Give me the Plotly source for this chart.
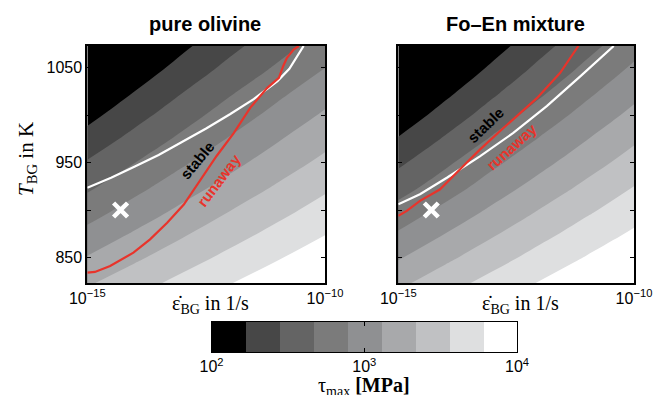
import numpy as np
import plotly.graph_objects as go

# ---------------- data ----------------
rate_log = [-15, -14, -13, -12, -11, -10]          # log10 of strain rate (1/s)
temperature_K = [823, 848, 873, 898, 923, 948, 973, 998, 1023, 1048, 1073]

# log10(tau_max / MPa), rows follow temperature_K, columns follow rate_log
log_tau_olivine = [
    [3.306, 3.466, 3.621, 3.769, 3.908, 4.047],
    [3.136, 3.307, 3.468, 3.622, 3.770, 3.909],
    [2.965, 3.148, 3.318, 3.478, 3.632, 3.780],
    [2.798, 2.987, 3.168, 3.338, 3.497, 3.649],
    [2.635, 2.830, 3.018, 3.196, 3.364, 3.523],
    [2.476, 2.677, 2.870, 3.056, 3.231, 3.397],
    [2.318, 2.526, 2.725, 2.917, 3.102, 3.274],
    [2.165, 2.379, 2.584, 2.781, 2.971, 3.152],
    [2.014, 2.236, 2.447, 2.649, 2.843, 3.030],
    [1.870, 2.093, 2.310, 2.512, 2.705, 2.898],
    [1.734, 1.956, 2.178, 2.385, 2.578, 2.775],
]
log_tau_foen = [
    [3.283, 3.465, 3.634, 3.791, 3.939, 4.088],
    [3.103, 3.297, 3.477, 3.644, 3.802, 3.950],
    [2.926, 3.127, 3.320, 3.499, 3.664, 3.820],
    [2.752, 2.960, 3.160, 3.352, 3.529, 3.691],
    [2.582, 2.787, 3.004, 3.202, 3.390, 3.567],
    [2.415, 2.639, 2.852, 3.056, 3.251, 3.436],
    [2.251, 2.482, 2.703, 2.913, 3.115, 3.308],
    [2.087, 2.328, 2.556, 2.773, 2.980, 3.179],
    [1.930, 2.177, 2.413, 2.637, 2.850, 3.054],
    [1.780, 2.027, 2.271, 2.502, 2.722, 2.931],
    [1.637, 1.884, 2.131, 2.370, 2.596, 2.811],
]

# colour levels: 9 bands between 10^2 and 10^4 MPa
level_edges_log = [2.0, 2.2222, 2.4444, 2.6667, 2.8889, 3.1111, 3.3333, 3.5556, 3.7778, 4.0]
band_colors = ["#000000", "#474747", "#646464", "#7b7b7b", "#8f9092",
               "#a8a9ab", "#c0c1c3", "#dedfe0", "#ffffff"]
cbar_ticks_log = [2, 3, 4]
cbar_ticktext = ["10<sup>2</sup>", "10<sup>3</sup>", "10<sup>4</sup>"]

# stability boundaries
stable_olivine_rate_log = [-15.0, -14.5, -14.0, -13.5, -13.0, -12.5, -12.0, -11.5, -11.0, -10.75, -10.45]
stable_olivine_T = [923.5, 934, 946, 958, 972, 986, 1001, 1017, 1036, 1049, 1073]
runaway_olivine_rate_log = [-15.0, -14.84, -14.52, -14.03, -13.68, -13.32, -12.97, -12.63, -12.28,
                            -11.92, -11.57, -11.22, -10.97, -10.88, -10.80, -10.66, -10.55]
runaway_olivine_T = [834, 834.7, 840.9, 855, 869, 886.5, 905.8, 930.4, 957,
                     981, 1008, 1028.6, 1039.5, 1051.7, 1060.5, 1069.3, 1073]

stable_foen_rate_log = [-15.0, -14.54, -13.97, -13.27, -12.56, -11.85, -11.14, -10.43]
stable_foen_T = [906, 916.6, 934, 956.6, 981.3, 1009.6, 1040.9, 1073]
runaway_foen_rate_log = [-15.0, -14.82, -14.54, -14.12, -13.62, -13.27, -12.77, -12.06, -11.57, -11.36, -11.18]
runaway_foen_T = [893.8, 899, 909.6, 921.6, 946.4, 963.7, 986.5, 1018, 1044.4, 1060.2, 1073]

marker_rate_log = [-14.3]
marker_T = [900]

y_tickvals = [850, 950, 1050]
y_ticktext = ["850", "950", "1050"]
x_tickvals_log = [-15, -10]
x_ticktext = ["10<sup>\u221215</sup>", "10<sup>\u221210</sup>"]

# ---------------- figure ----------------
W, H = 670, 395
OFF = 8  # the page body adds an 8 px margin around the plot
SANS = "Liberation Sans"
SERIF = "Liberation Serif"

n_bands = len(band_colors)
contour_scale = [[k / (n_bands - 1), c] for k, c in enumerate(band_colors)]

fig = go.Figure()

panels = [
    ("x", "y", log_tau_olivine, stable_olivine_rate_log, stable_olivine_T,
     runaway_olivine_rate_log, runaway_olivine_T),
    ("x2", "y2", log_tau_foen, stable_foen_rate_log, stable_foen_T,
     runaway_foen_rate_log, runaway_foen_T),
]
for xa, ya, z, srl, sT, rrl, rT in panels:
    fig.add_trace(go.Contour(
        x=10.0 ** np.array(rate_log, dtype=float), y=temperature_K, z=z,
        xaxis=xa, yaxis=ya,
        autocontour=False,
        contours=dict(start=level_edges_log[1], end=level_edges_log[-2] + 0.001,
                      size=2.0 / 9.0, coloring="fill", showlines=False),
        colorscale=contour_scale, showscale=False,
        line=dict(width=0, smoothing=1.0), hoverinfo="skip"))
    fig.add_trace(go.Scatter(
        x=10.0 ** np.array(srl), y=sT, mode="lines", xaxis=xa, yaxis=ya,
        line=dict(color="white", width=2.2), showlegend=False, hoverinfo="skip"))
    fig.add_trace(go.Scatter(
        x=10.0 ** np.array(rrl), y=rT, mode="lines", xaxis=xa, yaxis=ya,
        line=dict(color="#e8342b", width=2.2), showlegend=False, hoverinfo="skip"))
    fig.add_trace(go.Scatter(
        x=10.0 ** np.array(marker_rate_log), y=marker_T, mode="markers", xaxis=xa, yaxis=ya,
        marker=dict(symbol="x-thin", size=14, line=dict(color="white", width=4.5)),
        showlegend=False, hoverinfo="skip"))

# colour bar drawn as a heatmap on its own axis
fig.add_trace(go.Heatmap(
    x=level_edges_log, y=[0], z=[list(range(n_bands))],
    xaxis="x3", yaxis="y3", colorscale=contour_scale, zmin=0, zmax=n_bands - 1,
    showscale=False, hoverinfo="skip"))

def px_x(p):
    return (p - OFF) / W

def px_y(p):
    return 1 - (p - OFF) / H

ydom = [px_y(283), px_y(46)]
common_x = dict(type="log", range=[-15, -10], tickvals=[10.0 ** v for v in x_tickvals_log],
                ticktext=x_ticktext, ticks="inside", ticklen=4, tickcolor="black",
                showline=True, linecolor="black", linewidth=2, mirror=True,
                showgrid=False, zeroline=False, automargin=False,
                tickfont=dict(family=SANS, size=16, color="black"))
common_y = dict(range=[823, 1073], tickvals=y_tickvals, ticks="inside", ticklen=4,
                tickcolor="black", showline=True, linecolor="black", linewidth=2,
                mirror="ticks", showgrid=False, zeroline=False, domain=ydom, automargin=False,
                minor=dict(tick0=850, dtick=50, ticks="inside", ticklen=4, tickcolor="black",
                           showgrid=False),
                tickfont=dict(family=SANS, size=16, color="black"))

fig.update_layout(
    width=W, height=H, margin=dict(l=0, r=0, t=0, b=0, pad=0, autoexpand=False),
    paper_bgcolor="white", plot_bgcolor="white", showlegend=False,
    xaxis=dict(common_x, domain=[px_x(87.3), px_x(325)], anchor="y"),
    yaxis=dict(common_y, ticktext=y_ticktext, anchor="x"),
    xaxis2=dict(common_x, domain=[px_x(398.3), px_x(634)], anchor="y2"),
    yaxis2=dict(common_y, showticklabels=False, anchor="x2"),
    xaxis3=dict(domain=[px_x(211.5), px_x(517)], anchor="y3", range=[2, 4],
                tickvals=cbar_ticks_log, ticktext=cbar_ticktext, ticks="inside",
                ticklen=4, tickcolor="black", showline=True, linecolor="black",
                linewidth=1.2, mirror="ticks", showgrid=False, zeroline=False, automargin=False,
                tickfont=dict(family=SANS, size=16, color="black")),
    yaxis3=dict(domain=[px_y(352), px_y(322)], anchor="x3", range=[-0.5, 0.5],
                showticklabels=False, ticks="", showline=True, linecolor="black",
                linewidth=1.2, mirror=True, showgrid=False, zeroline=False, automargin=False),
)

def label(text, x, y, size, family, color="black", angle=0, xref="paper", yref="paper"):
    return dict(text=text, x=x, y=y, xref=xref, yref=yref, showarrow=False,
                xanchor="center", yanchor="middle", textangle=angle,
                font=dict(family=family, size=size, color=color))

ann = [
    label("<b>pure olivine</b>", px_x(205), px_y(24), 20, SANS),
    label("<b>Fo\u2013En mixture</b>", px_x(516), px_y(24), 20, SANS),
    label("\u03b5\u0307<sub>BG</sub> in 1/s", px_x(210), px_y(304), 20, SERIF),
    label("\u03b5\u0307<sub>BG</sub> in 1/s", px_x(520), px_y(304), 20, SERIF),
    label("<i>T</i><sub>BG</sub> in K", px_x(27), px_y(159), 21, SERIF, angle=-90),
    label("\u03c4<sub>max</sub> <b>[MPa]</b>", px_x(364), px_y(386), 20, SERIF),
    label("<b>stable</b>", -12.69, 951.7, 15, SANS, angle=-50, xref="x", yref="y"),
    label("<b>runaway</b>", -12.22, 932.0, 15, SANS, "#e8342b", angle=-53, xref="x", yref="y"),
    label("<b>stable</b>", -13.16, 989.3, 15, SANS, angle=-44, xref="x2", yref="y2"),
    label("<b>runaway</b>", -12.59, 966.8, 15, SANS, "#e8342b", angle=-42, xref="x2", yref="y2"),
]
fig.update_layout(annotations=ann)

fig.write_html("out.html")
